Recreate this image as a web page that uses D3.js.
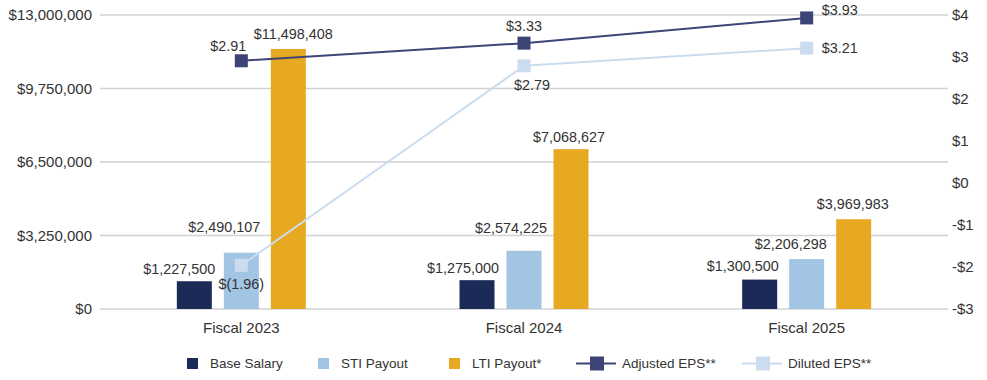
<!DOCTYPE html>
<html>
<head>
<meta charset="utf-8">
<script src="https://cdn.jsdelivr.net/npm/d3@7"></script>
<style>
  html, body { margin: 0; padding: 0; background: #fff; }
  svg { display: block; font-family: "Liberation Sans", Arial, Helvetica, sans-serif; }
</style>
</head>
<body>
<svg id="chart" width="987" height="380"></svg>
<script>
// ---- Data ----
const categories = ["Fiscal 2023", "Fiscal 2024", "Fiscal 2025"];
const baseSalary = [1227500, 1275000, 1300500];
const stiPayout = [2490107, 2574225, 2206298];
const ltiPayout = [11498408, 7068627, 3969983];
const adjustedEPS = [2.91, 3.33, 3.93];
const dilutedEPS = [-1.96, 2.79, 3.21];
const leftTicks = [0, 3250000, 6500000, 9750000, 13000000];
const rightTicks = [-3, -2, -1, 0, 1, 2, 3, 4];
const barSeriesNames = ["Base Salary", "STI Payout", "LTI Payout*"];
const lineSeriesNames = ["Adjusted EPS**", "Diluted EPS**"];

// ---- Styles / layout ----
const colors = {
  base: "#1c2a58", sti: "#a2c5e3", lti: "#e8a922",
  adj: "#3d4576", dil: "#cbdcee", text: "#333333", grid: "#d2d2d2"
};
const plot = { left: 100, right: 948, top: 15, bottom: 309 };
// label offsets [dx, dy] relative to bar top centre
const barLabelOffsets = {
  base: [[-15, -7], [-14, -7], [-17, -9]],
  sti: [[-17, -21], [-13, -18], [-16, -10]],
  lti: [[5, -10], [-2, -7], [-1, -10]]
};
const adjLabelOffsets = [[-13, -10, "middle"], [0, -12, "middle"], [15, -3, "start"]];
const dilLabelOffsets = [[0, 24, "middle"], [8, 24, "middle"], [15, 5, "start"]];

const svg = d3.select("#chart");

const x0 = d3.scaleBand().domain(categories).range([plot.left, plot.right]).padding(0);
const keys = ["base", "sti", "lti"];
const x1 = d3.scaleBand().domain(keys).range([-64.5, 64.5]).paddingInner(12 / 47).paddingOuter(0);
const yL = d3.scaleLinear().domain([0, 13000000]).range([plot.bottom, plot.top]);
const yR = d3.scaleLinear().domain([-3, 4]).range([plot.bottom, plot.top]);

const fmtMoney = v => "$" + d3.format(",")(v);
const fmtEPS = v => v < 0 ? "$(" + d3.format(".2f")(-v) + ")" : "$" + d3.format(".2f")(v);
const fmtRight = v => (v < 0 ? "-$" + (-v) : "$" + v);

// gridlines
svg.append("g").selectAll("line").data(leftTicks).join("line")
  .attr("x1", plot.left).attr("x2", plot.right)
  .attr("y1", d => yL(d)).attr("y2", d => yL(d))
  .attr("stroke", colors.grid).attr("stroke-width", 1.5);

// left axis labels
const leftAxis = d3.axisLeft(yL).tickValues(leftTicks).tickFormat(fmtMoney).tickSize(0).tickPadding(8);
const gL = svg.append("g").attr("transform", `translate(${plot.left},0)`).call(leftAxis);
gL.select(".domain").remove();
gL.selectAll("text").attr("font-size", 15).attr("fill", colors.text)
  .attr("font-family", "Liberation Sans, Arial, sans-serif");

// right axis labels
const rightAxis = d3.axisRight(yR).tickValues(rightTicks).tickFormat(fmtRight).tickSize(0).tickPadding(4);
const gR = svg.append("g").attr("transform", `translate(${plot.right},0)`).call(rightAxis);
gR.select(".domain").remove();
gR.selectAll("text").attr("font-size", 15).attr("fill", colors.text)
  .attr("font-family", "Liberation Sans, Arial, sans-serif");

// category axis
const bottomAxis = d3.axisBottom(x0).tickSize(0).tickPadding(13);
const gB = svg.append("g").attr("transform", `translate(0,${plot.bottom})`).call(bottomAxis);
gB.select(".domain").remove();
gB.selectAll("text").attr("font-size", 15).attr("fill", colors.text)
  .attr("font-family", "Liberation Sans, Arial, sans-serif");

// bars
const seriesData = { base: baseSalary, sti: stiPayout, lti: ltiPayout };
const barsG = svg.append("g");
keys.forEach(k => {
  const rows = categories.map((c, i) => ({ c, i, v: seriesData[k][i] }));
  barsG.selectAll(".bar-" + k).data(rows).join("rect")
    .attr("class", "bar-" + k)
    .attr("x", d => x0(d.c) + x0.bandwidth() / 2 + x1(k))
    .attr("width", x1.bandwidth())
    .attr("y", d => yL(d.v))
    .attr("height", d => yL(0) - yL(d.v))
    .attr("fill", colors[k]);
});

// lines
const cx = c => x0(c) + x0.bandwidth() / 2;
const lineGen = vals => d3.line().x((d, i) => cx(categories[i])).y(d => yR(d))(vals);
svg.append("path").attr("d", lineGen(dilutedEPS)).attr("fill", "none")
  .attr("stroke", colors.dil).attr("stroke-width", 2);
svg.append("path").attr("d", lineGen(adjustedEPS)).attr("fill", "none")
  .attr("stroke", colors.adj).attr("stroke-width", 2);
const ms = 13;
svg.append("g").selectAll("rect").data(dilutedEPS).join("rect")
  .attr("x", (d, i) => cx(categories[i]) - ms / 2).attr("y", d => yR(d) - ms / 2)
  .attr("width", ms).attr("height", ms).attr("fill", colors.dil);
svg.append("g").selectAll("rect").data(adjustedEPS).join("rect")
  .attr("x", (d, i) => cx(categories[i]) - ms / 2).attr("y", d => yR(d) - ms / 2)
  .attr("width", ms).attr("height", ms).attr("fill", colors.adj);

// bar labels
const labelsG = svg.append("g").attr("font-size", 14.4).attr("fill", colors.text).attr("text-anchor", "middle");
keys.forEach(k => {
  categories.forEach((c, i) => {
    const v = seriesData[k][i];
    const off = barLabelOffsets[k][i];
    labelsG.append("text")
      .attr("x", x0(c) + x0.bandwidth() / 2 + x1(k) + x1.bandwidth() / 2 + off[0])
      .attr("y", yL(v) + off[1])
      .text(fmtMoney(v));
  });
});

// EPS labels
const epsLabel = (vals, offs) => {
  vals.forEach((v, i) => {
    const o = offs[i];
    svg.append("text")
      .attr("x", cx(categories[i]) + o[0])
      .attr("y", yR(v) + o[1])
      .attr("text-anchor", o[2])
      .attr("font-size", 14.4).attr("fill", colors.text)
      .text(fmtEPS(v));
  });
};
epsLabel(adjustedEPS, adjLabelOffsets);
epsLabel(dilutedEPS, dilLabelOffsets);

// legend
const legendY = 363.5;
const lg = svg.append("g").attr("font-size", 13.5).attr("fill", colors.text);
const barLegendX = [187, 318, 449];
barSeriesNames.forEach((n, i) => {
  lg.append("rect").attr("x", barLegendX[i]).attr("y", legendY - 5.5)
    .attr("width", 11).attr("height", 11).attr("fill", colors[keys[i]]);
  lg.append("text").attr("x", barLegendX[i] + 23).attr("y", legendY).attr("dy", "0.35em").text(n);
});
const lineLegendX = [576, 742];
const lineColors = [colors.adj, colors.dil];
lineSeriesNames.forEach((n, i) => {
  const x = lineLegendX[i];
  lg.append("line").attr("x1", x).attr("x2", x + 40).attr("y1", legendY).attr("y2", legendY)
    .attr("stroke", lineColors[i]).attr("stroke-width", 2);
  lg.append("rect").attr("x", x + 14).attr("y", legendY - 7).attr("width", 14).attr("height", 14)
    .attr("fill", lineColors[i]);
  lg.append("text").attr("x", x + 46).attr("y", legendY).attr("dy", "0.35em").text(n);
});
</script>
</body>
</html>
